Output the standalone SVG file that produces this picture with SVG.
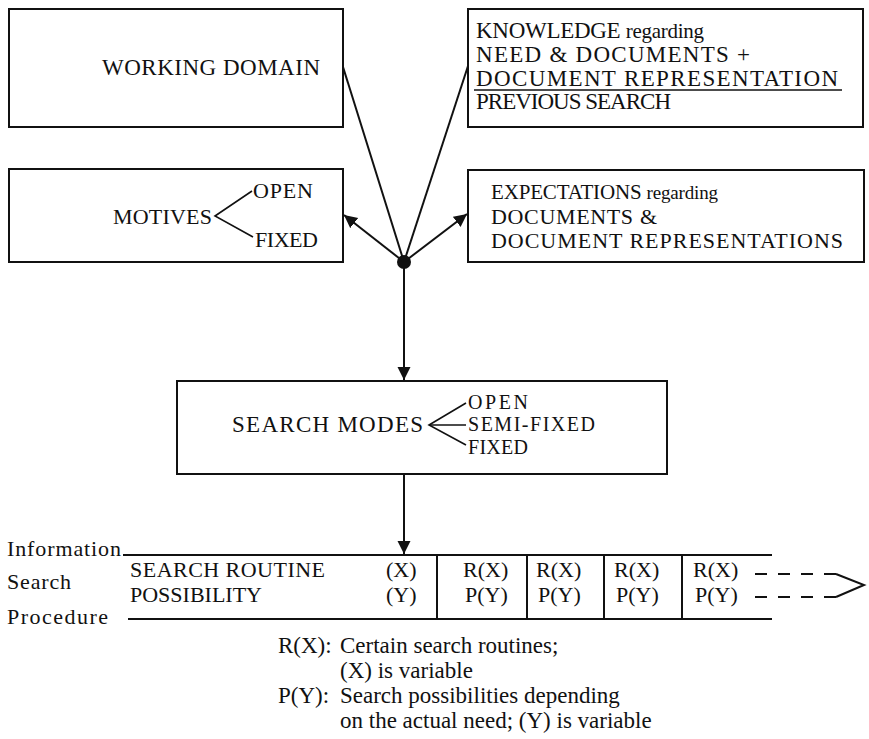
<svg xmlns="http://www.w3.org/2000/svg" width="869" height="739" viewBox="0 0 869 739">
<style>
  .box { fill: #fff; stroke: #111; stroke-width: 2; }
  .ln { fill: none; stroke: #111; stroke-width: 2; }
  .thin { fill: none; stroke: #111; stroke-width: 1.6; }
  .dash { fill: none; stroke: #111; stroke-width: 2; stroke-dasharray: 12 11; }
  text { font-family: "Liberation Serif", "Times New Roman", serif; font-size: 22px; fill: #111; }
  .big { font-size: 23px; }
  .lc { font-size: 21px; }
  .sm { font-size: 20px; }
</style>
<defs>
  <marker id="ah" markerUnits="userSpaceOnUse" markerWidth="14" markerHeight="14" refX="13" refY="6.5" orient="auto">
    <path d="M0,0 L13,6.5 L0,13 Z" fill="#111"/>
  </marker>
</defs>
<rect width="869" height="739" fill="#fff"/>

<g id="working-domain">
  <rect class="box" x="9" y="9" width="334" height="118"/>
  <text class="big" x="102" y="75" textLength="218">WORKING DOMAIN</text>
</g>

<g id="knowledge">
  <rect class="box" x="468" y="9" width="395" height="118"/>
  <text class="big" x="476" y="38" textLength="228">KNOWLEDGE <tspan class="lc">regarding</tspan></text>
  <text class="big" x="476" y="62" textLength="274">NEED &amp; DOCUMENTS  +</text>
  <text class="big" x="476" y="86" textLength="362">DOCUMENT REPRESENTATION</text>
  <line class="thin" x1="474" y1="90" x2="842" y2="90"/>
  <text class="big" x="476" y="109" textLength="195">PREVIOUS SEARCH</text>
</g>

<g id="motives">
  <rect class="box" x="9" y="169" width="334" height="93"/>
  <text x="113" y="224" textLength="99">MOTIVES</text>
  <polyline class="thin" points="252,191 215,216 253,237"/>
  <text x="253" y="198" textLength="60">OPEN</text>
  <text x="255" y="247" textLength="63">FIXED</text>
</g>

<g id="expectations">
  <rect class="box" x="468" y="170" width="396" height="92"/>
  <text x="491" y="199" style="font-size:21px" textLength="227">EXPECTATIONS <tspan style="font-size:19px">regarding</tspan></text>
  <text x="491" y="224" textLength="166">DOCUMENTS &amp;</text>
  <text x="491" y="248" textLength="352">DOCUMENT REPRESENTATIONS</text>
</g>

<g id="junction">
  <circle cx="404" cy="262" r="7" fill="#111"/>
</g>

<g id="search-modes">
  <rect class="box" x="177" y="381" width="490" height="93"/>
  <text class="big" x="232" y="432" textLength="191">SEARCH MODES</text>
  <polyline class="thin" points="466,403 429,425 466,445"/>
  <line class="thin" x1="429" y1="425" x2="466" y2="425"/>
  <text class="sm" x="468" y="409" textLength="60">OPEN</text>
  <text class="sm" x="468" y="431" textLength="127">SEMI-FIXED</text>
  <text class="sm" x="468" y="454" textLength="60">FIXED</text>
</g>

<g id="procedure">
  <text x="7" y="556" textLength="114">Information</text>
  <text x="7" y="589" textLength="64">Search</text>
  <text x="7" y="624" textLength="101">Procedure</text>
  <line class="ln" x1="123" y1="555" x2="772" y2="555"/>
  <line class="ln" x1="128" y1="619" x2="772" y2="619"/>
  <line class="ln" x1="437" y1="555" x2="437" y2="619"/>
  <line class="ln" x1="527" y1="555" x2="527" y2="619"/>
  <line class="ln" x1="604" y1="555" x2="604" y2="619"/>
  <line class="ln" x1="682" y1="555" x2="682" y2="619"/>
  <text x="130" y="577" textLength="195">SEARCH ROUTINE</text>
  <text x="130" y="602" textLength="132">POSSIBILITY</text>
  <text x="386" y="577">(X)</text>
  <text x="386" y="602">(Y)</text>
  <text x="463" y="577">R(X)</text>
  <text x="465" y="602">P(Y)</text>
  <text x="536" y="577">R(X)</text>
  <text x="538" y="602">P(Y)</text>
  <text x="614" y="577">R(X)</text>
  <text x="616" y="602">P(Y)</text>
  <text x="693" y="577">R(X)</text>
  <text x="695" y="602">P(Y)</text>
  <line class="dash" x1="755" y1="574" x2="836" y2="574"/>
  <line class="dash" x1="755" y1="597" x2="836" y2="597"/>
  <polyline class="ln" points="836,574 864,585 836,597"/>
</g>

<g id="legend">
  <text class="big" x="278" y="653">R(X):</text>
  <text class="big" x="340" y="653">Certain search routines;</text>
  <text class="big" x="340" y="678">(X) is variable</text>
  <text class="big" x="278" y="703">P(Y):</text>
  <text class="big" x="340" y="703">Search possibilities depending</text>
  <text class="big" x="340" y="728">on the actual need; (Y) is variable</text>
</g>

<g id="connectors">
  <line class="ln" x1="404" y1="262" x2="343" y2="67"/>
  <line class="ln" x1="404" y1="262" x2="468" y2="66"/>
  <line class="ln" x1="404" y1="262" x2="344" y2="215" marker-end="url(#ah)"/>
  <line class="ln" x1="404" y1="262" x2="467" y2="214" marker-end="url(#ah)"/>
  <line class="ln" x1="404" y1="262" x2="404" y2="380" marker-end="url(#ah)"/>
  <line class="ln" x1="404" y1="474" x2="404" y2="554" marker-end="url(#ah)"/>
</g>
</svg>
